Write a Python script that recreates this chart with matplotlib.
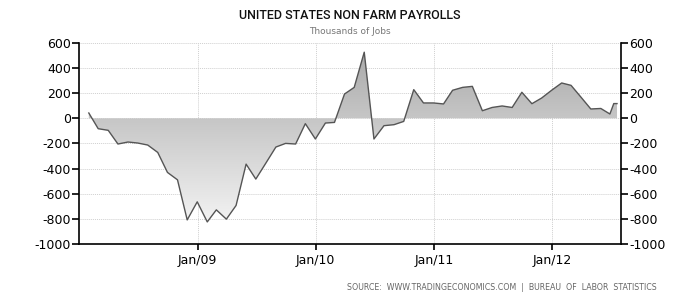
import numpy as np
import pandas as pd
import matplotlib
matplotlib.use("Agg")
from matplotlib import pyplot as plt
import matplotlib.dates as mdates

plt.rcParams["axes.unicode_minus"] = False

# monthly change in non farm payrolls, thousands
dates = list(pd.date_range("2008-01-31", "2012-05-31", freq="ME")) + [
    pd.Timestamp("2012-06-28"), pd.Timestamp("2012-07-10"), pd.Timestamp("2012-07-20")]
values = [42, -83, -96, -205, -189, -197, -213, -272, -431, -490, -809, -665,
          -825, -729, -803, -694, -365, -484, -357, -229, -200, -205, -43, -165,
          -38, -33, 193, 246, 526, -165, -59, -51, -25, 228, 122, 122,
          114, 223, 246, 254, 60, 86, 98, 86, 207, 116, 161, 223,
          281, 262, 167, 74, 78, 34, 117, 117]
yticks = [600, 400, 200, 0, -200, -400, -600, -800, -1000]
xtick_dates = ["2009-01-01", "2010-01-01", "2011-01-01", "2012-01-01"]
xtick_labels = ["Jan/09", "Jan/10", "Jan/11", "Jan/12"]

x = mdates.date2num(dates)

fig = plt.figure(figsize=(7, 3), dpi=100)
ax = fig.add_axes([0.113, 0.187, 0.774, 0.670])
x0 = mdates.date2num(pd.Timestamp("2008-01-01"))
x1 = mdates.date2num(pd.Timestamp("2012-08-01"))
ax.set_xlim(x0, x1)
ax.set_ylim(-1000, 600)

# gradient fill clipped to the area between line and zero (dark at top, light at bottom)
poly = ax.fill_between(x, values, 0, facecolor="none", edgecolor="none")
grad = np.linspace(0, 1, 256).reshape(-1, 1)
cmap = matplotlib.colors.LinearSegmentedColormap.from_list("g", ["#a6a6a6", "#fcfcfc"])
img = ax.imshow(grad, cmap=cmap, aspect="auto",
                extent=[x0, x1, -1000, 600], origin="upper", zorder=1)
img.set_clip_path(poly.get_paths()[0], transform=ax.transData)
ax.set_xlim(x0, x1)
ax.set_ylim(-1000, 600)
ax.plot(x, values, color="#555555", lw=1.0, zorder=3)

ax.set_yticks(yticks)
ax.set_xticks(mdates.date2num(pd.to_datetime(xtick_dates)))
ax.set_xticklabels(xtick_labels)
ax.grid(True, color="#d0d0d0", ls=(0, (1, 1)), lw=0.7, zorder=0)
ax.set_axisbelow(True)

ax.spines["top"].set_visible(False)
for s in ["left", "right", "bottom"]:
    ax.spines[s].set_linewidth(1.2)
ax.tick_params(axis="y", which="both", left=True, right=True, labelleft=True,
               labelright=True, direction="out", length=5, width=1.2,
               labelsize=9, pad=1)
ax.tick_params(axis="x", direction="out", length=4, width=1.2, labelsize=9, pad=3)

fig.text(0.5, 0.948, "UNITED STATES NON FARM PAYROLLS", ha="center", va="center",
         fontsize=9, fontweight="medium",
         family=["Roboto", "DejaVu Sans"], color="#111111")
fig.text(0.5, 0.895, "Thousands of Jobs", ha="center", va="center",
         fontsize=6.5, color="#777777")
fig.text(0.938, 0.043, "SOURCE:  WWW.TRADINGECONOMICS.COM  |  BUREAU  OF  LABOR  STATISTICS",
         ha="right", va="center", fontsize=5.7, color="#666666")

fig.savefig("out.png", dpi=100)
